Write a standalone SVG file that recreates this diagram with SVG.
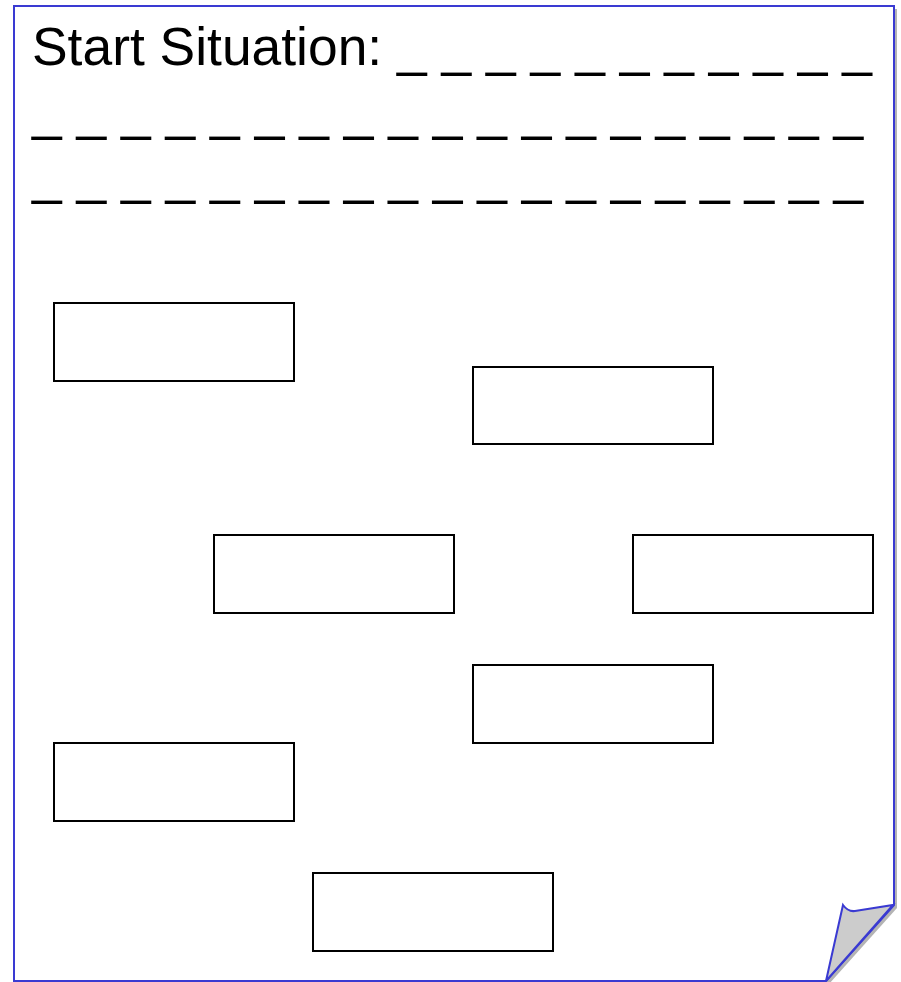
<svg xmlns="http://www.w3.org/2000/svg" width="901" height="982" viewBox="0 0 901 982">
<style>
.page{fill:#ffffff;stroke:#3a3ad2;stroke-width:2;stroke-linejoin:miter}
.shadow{fill:#b4b4b4}
.curl{fill:#cccccc;stroke:#3a3ad2;stroke-width:2;stroke-linejoin:miter}
.box{fill:#ffffff;stroke:#000000;stroke-width:2}
.t{font-family:"Liberation Sans",Arial,sans-serif;font-size:53.4px;fill:#000000}
</style>
<rect width="901" height="982" fill="#ffffff"/>
<g id="page">
<path class="shadow" d="M17,9 H897 V908 L829,984 H17 Z"/>
<path class="page" d="M14,6 H894 V905 L826,981 H14 Z"/>
<path class="shadow" d="M896,907 L829,983 L828,981 L893,909 Z"/>
<path class="curl" d="M893,905 L826,981 L843,905 Q848,912 855,911 Z"/>
</g>
<g id="title">
<text class="t" x="32" y="65">Start Situation: _ _ _ _ _ _ _ _ _ _ _</text>
<text class="t" x="32" y="129">_ _ _ _ _ _ _ _ _ _ _ _ _ _ _ _ _ _ _</text>
<text class="t" x="32" y="193">_ _ _ _ _ _ _ _ _ _ _ _ _ _ _ _ _ _ _</text>
</g>
<g id="node1"><rect class="box" x="54" y="303" width="240" height="78"/></g>
<g id="node2"><rect class="box" x="473" y="367" width="240" height="77"/></g>
<g id="node3"><rect class="box" x="214" y="535" width="240" height="78"/></g>
<g id="node4"><rect class="box" x="633" y="535" width="240" height="78"/></g>
<g id="node5"><rect class="box" x="473" y="665" width="240" height="78"/></g>
<g id="node6"><rect class="box" x="54" y="743" width="240" height="78"/></g>
<g id="node7"><rect class="box" x="313" y="873" width="240" height="78"/></g>
<g id="connectors"></g>
</svg>
